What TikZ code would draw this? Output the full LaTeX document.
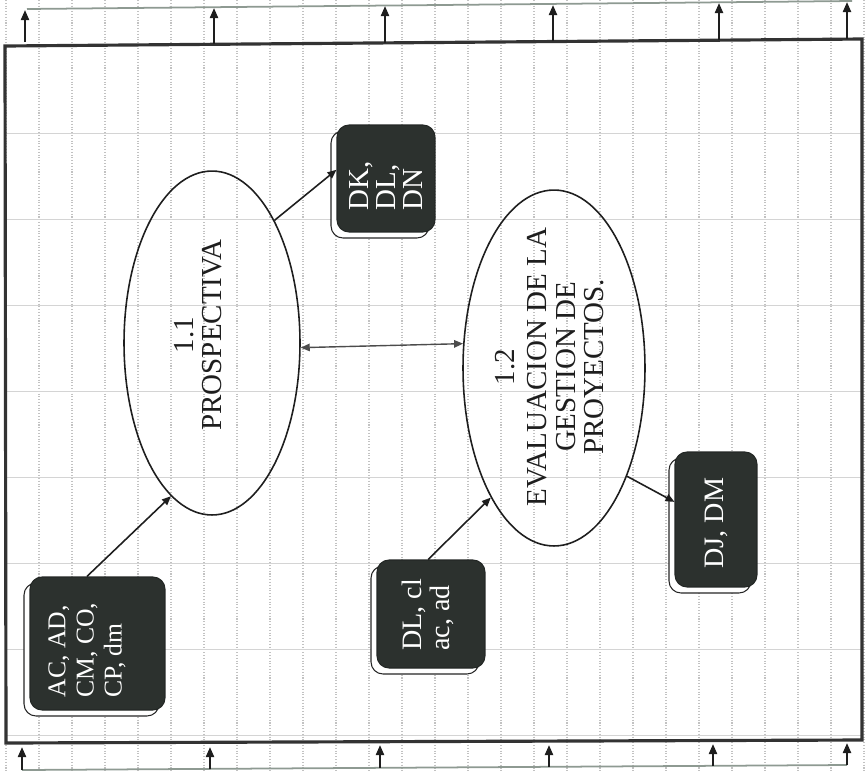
\documentclass[tikz,border=0pt]{standalone}
\usepackage{fontspec}
\setmainfont{Liberation Serif}
\usetikzlibrary{arrows.meta,shapes.geometric,shadows}
\definecolor{cbox}{HTML}{2C312E}
\definecolor{cframe}{HTML}{333333}
\definecolor{cgrid}{HTML}{C2C2C2}
\definecolor{crail}{HTML}{8E9A92}
\definecolor{cink}{HTML}{1E1E1E}
\tikzset{
  gridv/.style={draw=cgrid, densely dotted, line width=0.6pt},
  gridh/.style={draw=cgrid!70, line width=0.5pt},
  pageframe/.style={draw=cframe, line width=1.8pt, line join=miter},
  rail/.style={draw=crail, line width=1pt},
  riser/.style={-{Triangle[length=2mm,width=1.6mm]}, line width=1.2pt, draw=cink},
  proc/.style={ellipse, draw=cink, line width=0.9pt, inner sep=0pt},
  ptxt/.style={rotate=90, align=center, text=cink, font=\fontsize{16.5}{16.2}\selectfont, inner sep=0pt},
  dbox/.style={rectangle, rounded corners=0.24cm, fill=cbox, draw=cbox!80!black, line width=0.6pt,
    general shadow={shadow xshift=-0.12cm, shadow yshift=-0.12cm, fill=white, draw=black!85, line width=0.6pt}},
  btxt/.style={rotate=90, align=left, text=white, font=\fontsize{16}{15.8}\selectfont, inner sep=0pt},
  pre/.style={-{Triangle[length=1.8mm,width=1.5mm]}, line width=0.9pt, draw=cink},
  both/.style={{Triangle[length=1.8mm,width=1.5mm]}-{Triangle[length=1.8mm,width=1.5mm]}, line width=0.8pt, draw=black!70},
}
\begin{document}
\begin{tikzpicture}[x=0.02cm, y=-0.02cm]
\useasboundingbox (0,0) rectangle (866,772);
% ruled sheet
\foreach \gx in {6,39,...,864} \draw[gridv] (\gx,0) -- (\gx,772);
\foreach \gy in {133,219,...,735} \draw[gridh] (6,\gy) -- (862,\gy);
\draw[pageframe] (5,46) -- (862,39) -- (862,740) -- (6,743) -- cycle;
% flows above and below the frame
\draw[rail] (27,9) -- (852,1);
\foreach \tx/\ty/\tt in {25/42/10,214/44/8,385/43/6,553/41/5,719/40/3,847/39/2}
  \draw[riser] (\tx,\ty) -- (\tx,\tt);
\draw[rail] (22,770) -- (847,765);
\foreach \bx/\by/\bt in {22/770/747,210/769/747,380/768/745,549/767/745,713/766/744,847/765/743}
  \draw[riser] (\bx,\by) -- (\bx,\bt);
% processes
\node[proc, minimum width=3.52cm, minimum height=6.88cm] (e1) at (212,343) {};
\node[ptxt] (t1) at (198,335) {1.1\\PROSPECTIVA};
\node[proc, minimum width=3.64cm, minimum height=7.12cm] (e2) at (554,368) {};
\node[ptxt] (t2) at (550,367) {1.2\\[2pt]EVALUACION DE LA\\GESTION DE\\PROYECTOS.};
% inputs and outputs
\node[dbox, minimum width=2.70cm, minimum height=2.66cm] (ba) at (97.5,643.5) {};
\node[btxt, font=\fontsize{14.6}{16}\selectfont] (la) at (87,650) {AC, AD,\\CM, CO,\\CP, dm};
\node[dbox, minimum width=2.16cm, minimum height=2.16cm] (bb) at (431,614) {};
\node[btxt] (lb) at (428,615) {DL, cl\\ac, ad};
\node[dbox, minimum width=1.64cm, minimum height=2.70cm] (bc) at (716,519.5) {};
\node[btxt] (lc) at (716,523) {DJ, DM};
\node[dbox, minimum width=1.96cm, minimum height=2.14cm] (bd) at (386,178.5) {};
\node[btxt, font=\fontsize{16.5}{15.4}\selectfont] (ld) at (386,186) {DK,\\DL,\\DN};
\foreach \a/\b in {ba.99/e1.255,bb.93/e2.244,e2.304/bc.157,e1.63/bd.170}
  \draw[pre] (\a) -- (\b);
\draw[both] (e1.357) -- (e2.165);
\end{tikzpicture}
\end{document}
